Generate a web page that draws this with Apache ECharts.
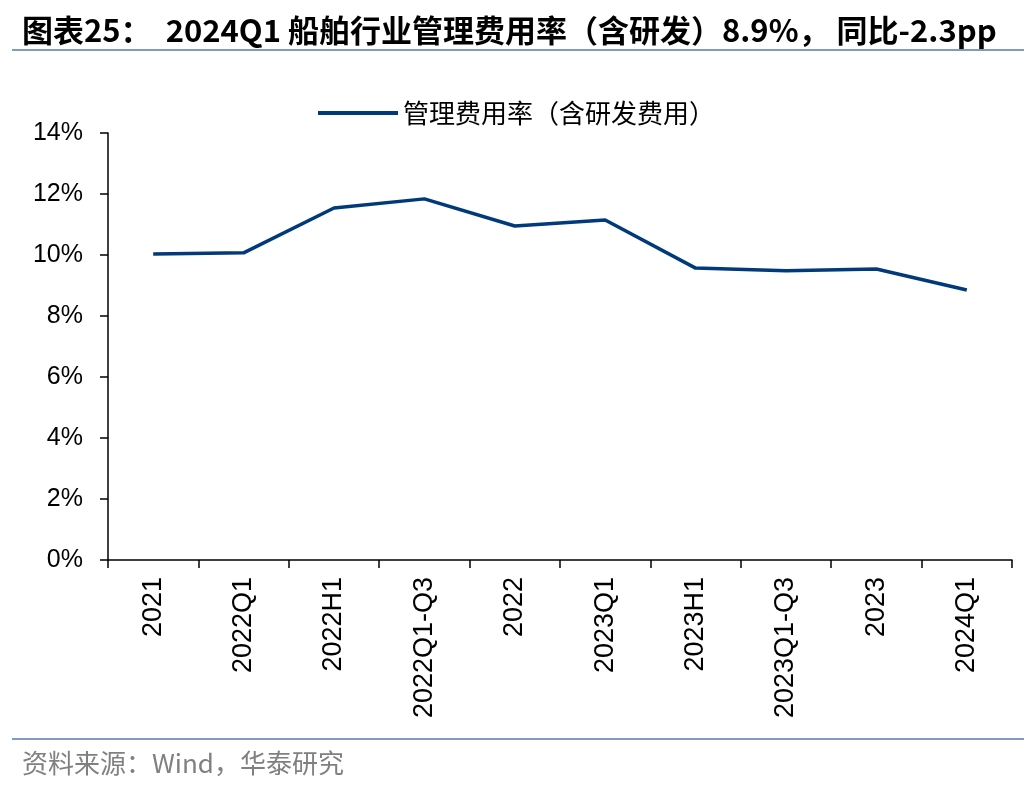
<!DOCTYPE html>
<html>
<head>
<meta charset="utf-8">
<script src="https://cdn.jsdelivr.net/npm/echarts@6/dist/echarts.min.js"></script>
<style>html,body{margin:0;padding:0;background:#fff;}#c{width:1036px;height:792px;}</style>
</head>
<body>
<div id="c"></div>
<script>
const categories = ['2021','2022Q1','2022H1','2022Q1-Q3','2022','2023Q1','2023H1','2023Q1-Q3','2023','2024Q1'];
const seriesName = '管理费用率（含研发费用）';
const values = [10.03, 10.07, 11.54, 11.84, 10.95, 11.15, 9.57, 9.48, 9.54, 8.85];
const titleText = '图表25：  2024Q1 船舶行业管理费用率（含研发）8.9%， 同比-2.3pp';
const sourceText = '资料来源：Wind，华泰研究';

const chart = echarts.init(document.getElementById('c'));
chart.setOption({
  animation: false,
  backgroundColor: '#fff',
  title: {
    text: titleText,
    left: 17, top: 10,
    textStyle: {fontFamily: '"Noto Sans CJK SC",sans-serif', fontWeight: 'bold', fontSize: 31, color: '#000'}
  },
  graphic: [
    {type: 'rect', shape: {x: 12, y: 49, width: 1012, height: 2}, style: {fill: '#7f9cc0'}},
    {type: 'rect', shape: {x: 12, y: 738, width: 1012, height: 2}, style: {fill: '#7f9cc0'}},
    {type: 'text', left: 22, top: 750, style: {text: sourceText, fill: '#808080', font: '26px "Noto Sans CJK SC", sans-serif'}}
  ],
  legend: {
    data: [seriesName],
    top: 95, left: 313,
    itemWidth: 80, itemHeight: 4,
    textStyle: {fontFamily: '"Noto Sans CJK SC",sans-serif', fontSize: 26, color: '#000'},
    icon: 'rect'
  },
  grid: {left: 108, right: 24, top: 133, bottom: 232, containLabel: false},
  xAxis: {
    type: 'category',
    data: categories,
    boundaryGap: true,
    axisLine: {lineStyle: {color: '#000', width: 1.5}},
    axisTick: {show: true, inside: false, length: 8, alignWithLabel: false, lineStyle: {color: '#000', width: 1.5}},
    axisLabel: {rotate: 90, margin: 17, color: '#000', fontSize: 27, fontFamily: '"Liberation Sans",Arial,sans-serif', interval: 0}
  },
  yAxis: {
    type: 'value',
    min: 0, max: 14, interval: 2,
    splitLine: {show: false},
    axisLine: {show: true, lineStyle: {color: '#000', width: 1.5}},
    axisTick: {show: true, length: 8, lineStyle: {color: '#000', width: 1.5}},
    axisLabel: {formatter: '{value}%', margin: 25, color: '#000', fontSize: 25, fontFamily: '"Liberation Sans",Arial,sans-serif'}
  },
  series: [{
    name: seriesName,
    type: 'line',
    data: values,
    symbol: 'none',
    lineStyle: {color: '#003a7a', width: 3.5},
    itemStyle: {color: '#003a7a'}
  }]
});
</script>
</body>
</html>
